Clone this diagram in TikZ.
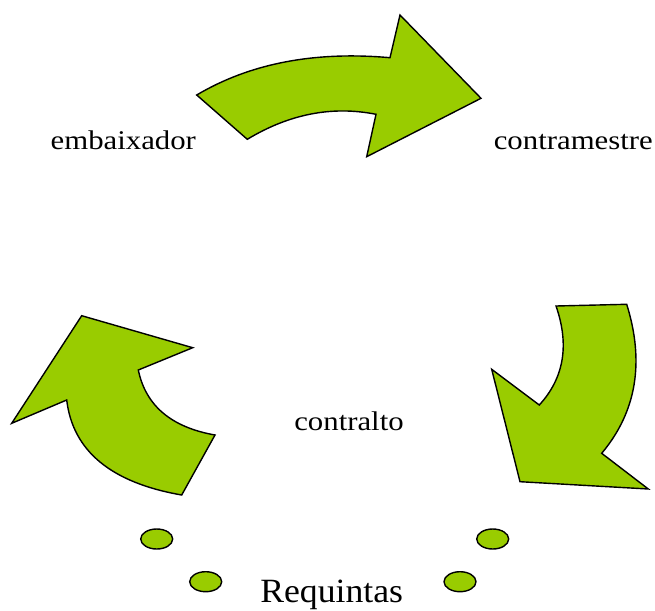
\documentclass[tikz,border=0pt]{standalone}
\usepackage{fontspec}
\setmainfont{Liberation Serif}
\usepackage{tikz}
\usetikzlibrary{shapes.geometric}

\definecolor{leaf}{HTML}{99CC00}

\begin{document}
\begin{tikzpicture}[%
    x=1pt, y=-1pt,
    curvedarrow/.style={draw=black, fill=leaf, line width=1.4pt, line join=miter},
    pebble/.style={ellipse, draw=black, fill=leaf, line width=1.4pt,
      minimum width=32pt, minimum height=20pt, inner sep=0pt},
    word/.style={anchor=base, inner sep=0pt,
      font=\addfontfeatures{FakeStretch=1.14}\fontsize{27}{30}\selectfont}
  ]
  \useasboundingbox (0,0) rectangle (655,610);

  % upper arrow, pointing right
  \path[curvedarrow] (196.7,95) .. controls (250,63.4) and (314.4,51) .. (390,57.7)
    -- (400,15) -- (481,98.3) -- (366.7,156.7) -- (376,114.3)
    .. controls (332.3,105.6) and (289.4,113.9) .. (247.3,139.3) -- cycle;

  % right arrow, pointing down
  \path[curvedarrow] (556,306) -- (626.7,304.3)
    .. controls (644.8,362.2) and (636.4,411.9) .. (601.7,453.3)
    -- (648.3,489) -- (520,481.7) -- (491.7,369.3) -- (539.3,405)
    .. controls (564,378) and (569.6,345) .. cycle;

  % left arrow, pointing up
  \path[curvedarrow] (81.7,315.7) -- (192.7,347.7) -- (138.3,370)
    .. controls (145.7,405.7) and (171.3,427.3) .. (215,435) -- (181.7,495)
    .. controls (111.1,482.7) and (72.8,451) .. (66.7,400) -- (11.7,423.3) -- cycle;

  % labels
  \node[word] (emb) at (123.3,149) {embaixador};
  \node[word] (cms) at (573.3,149) {contramestre};
  \node[word] (cal) at (349,430) {contralto};
  \node[word, font=\addfontfeatures{FakeStretch=1.05}\fontsize{34}{38}\selectfont]
    (req) at (331.7,602) {Requintas};

  % small ellipses
  \foreach \n/\x/\y in {a/156.7/539, b/205.7/581.7, c/460/581.7, d/492.7/539}
    {\node[pebble] (dot-\n) at (\x,\y) {};}
\end{tikzpicture}
\end{document}
